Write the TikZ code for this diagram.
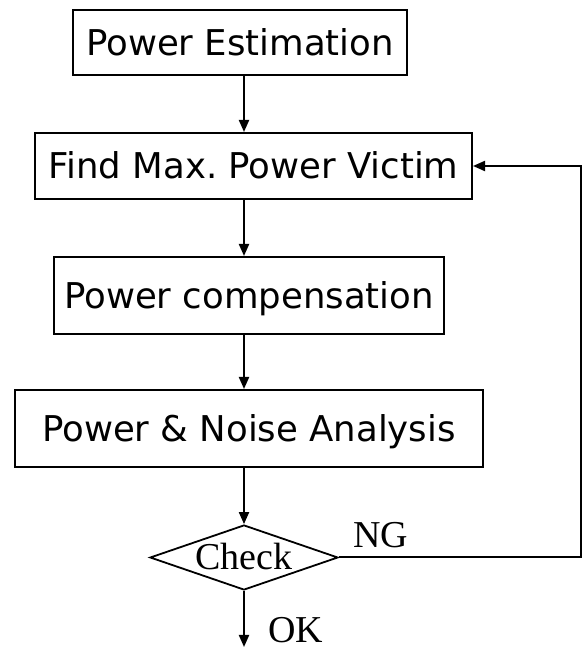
\documentclass[tikz,border=0pt]{standalone}
\usepackage{fontspec}
\setmainfont{Liberation Serif}
\newfontfamily\boxfont{DejaVu Sans}
\usetikzlibrary{shapes.geometric,arrows.meta}
\begin{document}
\begin{tikzpicture}[x=1pt,y=1pt,
  stepbox/.style={draw, rectangle, line width=2pt, inner sep=0pt,
    text height=25.9pt, text depth=0pt,
    font=\boxfont\fontsize{35.5}{40}\selectfont},
  decision/.style={draw, diamond, line width=1.8pt, inner sep=0pt, aspect=2.9,
    minimum width=188pt, minimum height=65pt,
    text height=25pt, text depth=0pt,
    font=\fontsize{38}{42}\selectfont},
  flow/.style={line width=2pt, -{Triangle[length=12pt,width=10pt]}},
  tag/.style={inner sep=0pt, anchor=base west, font=\fontsize{38}{42}\selectfont}]
\useasboundingbox (0,0) rectangle (582,650);

% process steps
\node[stepbox, minimum width=334pt, minimum height=65pt] (est) at (240,607.5) {Power Estimation};
\node[stepbox, minimum width=437pt, minimum height=66pt] (vic) at (253.5,484) {Find Max.\ Power Victim};
\node[stepbox, minimum width=390pt, minimum height=77pt] (comp) at (249,354.5) {Power compensation};
\node[stepbox, minimum width=468pt, minimum height=77pt] (ana) at (249,221.5) {Power \& Noise Analysis};

% decision
\node[decision] (chk) at (244,92.5) {Check};
\node[tag] (ng) at (353,102) {NG};
\node[tag] (ok) at (268,8) {OK};

% loop-back column and exit point
\coordinate (fb) at (580.5,0);
\coordinate (exit) at (244,3);

% main flow
\draw[flow] (est.south -| chk) -- (vic.north -| chk);
\draw[flow] (vic.south -| chk) -- (comp.north -| chk);
\draw[flow] (comp.south -| chk) -- (ana.north -| chk);
\draw[flow] (ana.south -| chk) -- (chk.north);
\draw[flow] (chk.south) -- (exit);

% NG loop back to the victim search
\draw[flow] (chk.east) -- (chk.east -| fb) |- (vic.east);
\end{tikzpicture}
\end{document}
